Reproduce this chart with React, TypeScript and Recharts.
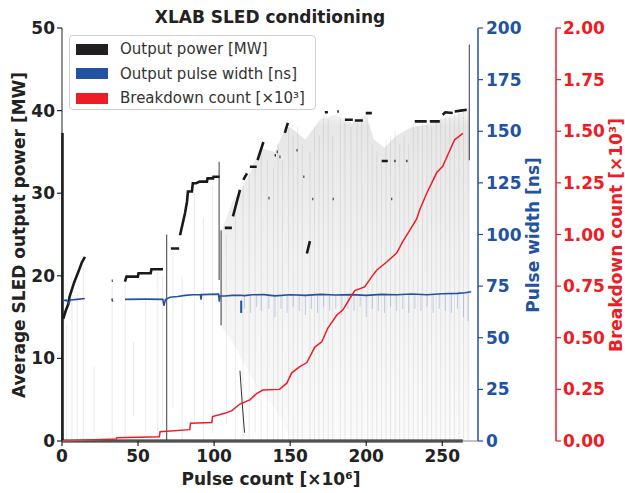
import React from 'react';
import { ComposedChart, Line, Area, XAxis, YAxis, Legend, Label } from 'recharts';

const FONT = '"DejaVu Sans", sans-serif';
const INK = '#222222';
const BLUE = '#2352a2';
const RED = '#ee1c25';

const xTicks = [0, 50, 100, 150, 200, 250];
const powerTicks = [0, 10, 20, 30, 40, 50];
const widthTicks = [0, 25, 50, 75, 100, 125, 150, 175, 200];
const breakdownTicks = [0, 0.25, 0.5, 0.75, 1, 1.25, 1.5, 1.75, 2];

// output power trace pieces: [pulse count x1e6, MW]
const powerTrace: [number, number][][] = [
  [[0.8, 14.8], [2.5, 15.8], [4, 16.5], [5, 17.5], [8, 19.2], [11, 20.6], [13, 21.6], [15.1, 22.3]],
  [[32.7, 19.4], [33.3, 19.4]],
  [[41.4, 19.3], [42.4, 19.9], [49.9, 19.9], [50.3, 20.3], [58.3, 20.3], [58.8, 20.8], [66.4, 20.8]],
  [[71.6, 23.3], [77, 23.3]],
  [[77.6, 24.9], [80.9, 27.6], [82.2, 29], [82.8, 30.2], [85.4, 30.2], [86, 31.2], [88.2, 31.2], [90.6, 31.4], [95.3, 31.4], [95.7, 31.8], [99.3, 31.8], [99.6, 32], [103.6, 32]],
  [[107, 25.8], [111.7, 25.8]],
  [[112.4, 27.2], [117, 30.4]],
  [[119.2, 31.6], [121.6, 32.4]],
  [[123.5, 33.2], [128, 33.2]],
  [[128.6, 34], [132.4, 36.2]],
  [[135.8, 29.4], [136.4, 29.4]],
  [[139.8, 34.6], [140.6, 34.6]],
  [[141.2, 35], [141.8, 35]],
  [[143, 34.4], [143.6, 34.4]],
  [[146.5, 37.3], [148.5, 38.5]],
  [[154.2, 35.2], [154.8, 35.2]],
  [[158.7, 32], [159.3, 32]],
  [[161, 22.7], [163, 24.2]],
  [[164.6, 29.3], [165.2, 29.3]],
  [[172.8, 39.8], [174.8, 39.8]],
  [[178, 29.3], [178.6, 29.3]],
  [[181, 39.9], [182, 39.9]],
  [[186, 38.9], [191.2, 38.9]],
  [[192.5, 38.8], [197.8, 38.8]],
  [[199.7, 39.7], [203.7, 39.7]],
  [[210.2, 33.9], [214.2, 33.9]],
  [[216.5, 29.3], [217.1, 29.3]],
  [[218.5, 33.9], [219.3, 33.9]],
  [[226.3, 33.9], [227.1, 33.9]],
  [[231.9, 38.7], [239.8, 38.7]],
  [[241.8, 38.7], [248.4, 38.7]],
  [[250.3, 39.5], [252, 39.8], [256.9, 39.7]],
  [[258.2, 39.9], [262, 40], [266.1, 40.1]],
];

const powerFloor: [number, number][] = [[0, 0], [263.5, 0]];
const powerStart: [number, number][] = [[0.3, 0], [0.3, 37.3]];

// dark vertical strokes [x, low MW, high MW]
const darkStreaks: [number, number, number][] = [
  [68.8, 0, 25], [103.3, 19.5, 33.8], [104.6, 14, 25.5], [267.8, 34, 48],
];
const slantStreak: [number, number][] = [[117, 8.5], [118.5, 4.5], [120, 1]];

// faint vertical noise [x, low MW, high MW]
const greyStreaks: [number, number, number][] = [
  [3, 0, 14], [6.5, 0, 20], [10, 0, 18], [14, 0, 21], [21, 1, 9], [33, 0, 19], [41.5, 0, 19.5],
  [47, 3, 12], [55, 1, 17], [63, 0, 20.5], [66, 2, 20], [73, 4, 23], [79, 0, 20], [87, 2, 30],
  [93, 0, 27], [99, 1, 31], [108, 2, 25], [114, 0, 29], [119, 0, 31], [123, 0, 33], [127, 1, 33],
  [131, 0, 35], [135, 0, 34], [139, 0, 33], [142, 0, 36], [145, 0, 34], [149, 0, 38], [152, 0, 37],
  [155, 0, 38], [158, 0, 36], [163, 0, 35], [166, 0, 38], [169, 0, 37], [172, 0, 39.5], [175, 0, 39],
  [178, 0, 37], [183, 0, 39], [186, 0, 38.5], [190, 0, 38], [194, 0, 38.5], [197, 0, 39], [201, 0, 40],
  [204, 0, 36], [207, 0, 35], [210, 0, 34], [213, 0, 36.5], [216, 0, 37], [219, 0, 37.5], [222, 0, 36],
  [225, 0, 37], [228, 0, 36], [231, 0, 38.5], [234, 0, 38], [237, 0, 38.5], [240, 0, 38.7], [243, 0, 38],
  [246, 0, 38.6], [249, 0, 39], [252, 0, 39.5], [255, 0, 39.8], [258, 0, 40], [261, 0, 39.8],
  [264, 0, 40.2], [267, 0, 40],
];

// grey haze band [x, low MW, high MW]
const powerHaze: [number, number, number][] = [
  [104, 14, 25], [112, 12, 29], [118, 10, 30.5], [124, 8, 32.5], [130, 6, 35.5], [140, 4, 35],
  [146, 2, 37.5], [150, 0, 38], [160, 0, 36.5], [170, 0, 39], [180, 0, 39.5], [190, 0, 38.5],
  [200, 0, 39.5], [205, 0, 36.5], [212, 0, 35.5], [220, 0, 37], [230, 0, 38], [240, 0, 38.3],
  [250, 0, 39], [260, 0, 39.5], [268, 0, 40.5],
];

// output pulse width [x, ns]
const widthTrace: [number, number][][] = [
  [[0, 68], [3, 68.2], [4.5, 66.5], [5.5, 68.3], [10, 68.6], [15, 69]],
  [[32.8, 69], [33.3, 67.5]],
  [[41.4, 68.6], [55, 68.7], [66.3, 68.6], [67, 65.5], [68, 68.5], [71, 69.6], [76, 70], [81, 70.5],
    [86, 70.8], [91, 70.9], [91.4, 68.5], [91.8, 70.9], [103, 71.1], [103.4, 67.5], [103.8, 70.3],
    [107, 70.2], [112, 70.5], [117, 70.6], [120, 70.4], [125, 70.8], [133, 70.9], [140, 70.3],
    [150, 70.8], [160, 70.5], [170, 71], [180, 70.7], [190, 70.9], [200, 70.5], [210, 71],
    [220, 70.8], [230, 71.2], [240, 70.8], [250, 71.3], [260, 71.5], [265, 71.8], [269, 72.3]],
];
const widthDip: [number, number, number][] = [[117.8, 62, 68]];
const widthFuzz: [number, number, number][] = [
  [120, 64, 70.5], [124, 62, 70.7], [128, 65, 70.8], [131, 63, 70.9], [136, 64, 70.5], [140, 60, 70.3],
  [144, 64, 70.6], [148, 62, 70.8], [152, 65, 70.8], [156, 63, 70.6], [160, 61, 70.5], [164, 64, 70.8],
  [168, 62, 71], [172, 65, 70.9], [176, 63, 70.7], [180, 64, 70.7], [184, 61, 70.8], [188, 64, 70.9],
  [192, 63, 70.9], [196, 65, 70.7], [200, 60, 70.5], [204, 64, 70.8], [208, 63, 71], [212, 62, 70.9],
  [216, 65, 70.8], [220, 63, 70.8], [224, 64, 71], [228, 62, 71.2], [232, 64, 71], [236, 63, 70.9],
  [240, 65, 70.8], [244, 62, 71], [248, 64, 71.3], [252, 63, 71.3], [256, 62, 71.4], [260, 64, 71.5],
  [264, 60, 71.8], [267, 58, 72],
];

// breakdown count [x, x1e3]
const breakdown: [number, number][] = [
  [0, 0], [35.5, 0.01], [36.1, 0.016], [64, 0.02], [64.5, 0.045], [84, 0.055], [84.5, 0.086],
  [98.5, 0.09], [99, 0.118], [107, 0.134], [111.7, 0.147], [117, 0.179], [123.5, 0.199],
  [128, 0.23], [132, 0.247], [143, 0.25], [147.8, 0.28], [151, 0.33], [156.4, 0.36], [161, 0.38],
  [166.2, 0.455], [170.8, 0.48], [174.8, 0.547], [180.7, 0.61], [184.6, 0.634], [189.2, 0.69],
  [192.5, 0.728], [199, 0.746], [203.7, 0.796], [207, 0.828], [213.5, 0.867], [220, 0.91],
  [224, 0.965], [228.6, 1.02], [233.2, 1.075], [235.2, 1.12], [239.8, 1.2], [243.1, 1.25],
  [246.4, 1.3], [250.3, 1.33], [253.6, 1.385], [258.2, 1.46], [260.2, 1.47], [263.5, 1.49],
];

const legendItems = [
  { name: 'Output power [MW]', color: '#231f20' },
  { name: 'Output pulse width [ns]', color: '#2352a2' },
  { name: 'Breakdown count [×10³]', color: '#ee1c25' },
];

type Row = { x: number; y: number | null };
const pieces = (segs: [number, number][][]): Row[] =>
  segs.flatMap((s) => [...s.map(([x, y]) => ({ x, y })), { x: s[s.length - 1][0], y: null }]);
const streaks = (list: [number, number, number][]): Row[] =>
  list.flatMap(([x, lo, hi]) => [{ x, y: lo }, { x, y: hi }, { x, y: null }]);

const hazeRows = powerHaze.map(([x, lo, hi]) => ({ x, range: [lo, hi] }));
const breakdownRows = breakdown.map(([x, y]) => ({ x, y }));

const tickFont = { fontSize: 17, fontWeight: 'bold', fontFamily: FONT };

const LegendBox = () => (
  <div style={{ width: 245, height: 73, border: '1px solid #d0d0d0', borderRadius: 4, background: 'rgba(255,255,255,0.85)', boxSizing: 'content-box', position: 'relative' }}>
    {legendItems.map((it, i) => (
      <div key={it.name} style={{ position: 'absolute', left: 6, top: 7 + i * 24.5, display: 'flex', alignItems: 'center', height: 12 }}>
        <div style={{ width: 32, height: 11, background: it.color }} />
        <span style={{ marginLeft: 12, fontFamily: FONT, fontSize: 15, color: '#333', whiteSpace: 'nowrap' }}>{it.name}</span>
      </div>
    ))}
  </div>
);

const rotLabel = (text: string, x: number, y: number, color: string) => () => (
  <text x={x} y={y} transform={`rotate(-90 ${x} ${y})`} textAnchor="middle" fill={color}
    style={{ fontFamily: FONT, fontSize: 17, fontWeight: 'bold' }}>{text}</text>
);

export default function App() {
  return (
    <div style={{ position: 'absolute', left: 0, top: 0, width: 625, height: 493, background: '#fff' }}>
      <svg width={625} height={30} style={{ position: 'absolute', left: 0, top: 0 }}>
        <text x={270} y={22.5} textAnchor="middle" fill={INK} style={{ fontFamily: FONT, fontSize: 17, fontWeight: 'bold' }}>
          XLAB SLED conditioning
        </text>
      </svg>
      <ComposedChart width={625} height={493} margin={{ top: 28, right: 0, bottom: 0, left: 0 }}>
        <defs>
          <linearGradient id="haze" x1="0" y1="0" x2="0" y2="1">
            <stop offset="0%" stopColor="#555" stopOpacity={0.06} />
            <stop offset="6%" stopColor="#555" stopOpacity={0.24} />
            <stop offset="45%" stopColor="#555" stopOpacity={0.13} />
            <stop offset="100%" stopColor="#555" stopOpacity={0.04} />
          </linearGradient>
        </defs>
        <XAxis xAxisId="top" orientation="top" dataKey="x" type="number" domain={[0, 273.5]} height={0}
          tick={false} tickLine={false} axisLine={{ stroke: '#888', strokeWidth: 1.5 }} />
        <XAxis dataKey="x" type="number" domain={[0, 273.5]} ticks={xTicks} height={52}
          tick={{ ...tickFont, fill: INK }} tickSize={5} tickMargin={4}
          axisLine={{ stroke: '#888', strokeWidth: 1 }} tickLine={{ stroke: INK, strokeWidth: 1.2 }}>
          <Label content={() => (
            <text x={271} y={485} textAnchor="middle" fill={INK} style={{ fontFamily: FONT, fontSize: 17, fontWeight: 'bold' }}>
              Pulse count [×10⁶]
            </text>
          )} />
        </XAxis>
        <YAxis yAxisId="p" domain={[0, 50]} ticks={powerTicks} width={62}
          tick={{ ...tickFont, fill: INK }} tickSize={5} tickMargin={2}
          axisLine={{ stroke: INK, strokeWidth: 1 }} tickLine={{ stroke: INK, strokeWidth: 1.2 }}>
          <Label content={rotLabel('Average SLED output power [MW]', 25, 235, INK)} />
        </YAxis>
        <YAxis yAxisId="a" orientation="right" domain={[0, 200]} ticks={widthTicks} width={78}
          tick={{ ...tickFont, fill: BLUE }} tickSize={5} tickMargin={3}
          axisLine={{ stroke: BLUE, strokeWidth: 1.5 }} tickLine={{ stroke: BLUE, strokeWidth: 1.2 }}>
          <Label content={rotLabel('Pulse width [ns]', 539, 235, BLUE)} />
        </YAxis>
        <YAxis yAxisId="z" orientation="right" domain={[0, 2]} ticks={breakdownTicks} width={69}
          tick={{ ...tickFont, fill: RED }} tickSize={5} tickMargin={2}
          tickFormatter={(v: number) => v.toFixed(2)}
          axisLine={{ stroke: RED, strokeWidth: 1.5 }} tickLine={{ stroke: RED, strokeWidth: 1.2 }}>
          <Label content={rotLabel('Breakdown count [×10³]', 622, 235, RED)} />
        </YAxis>

        <Area yAxisId="p" data={hazeRows} dataKey="range" type="linear" stroke="none" fill="url(#haze)"
          isAnimationActive={false} />
        <Line yAxisId="p" data={streaks(greyStreaks)} dataKey="y" stroke="#666" strokeWidth={0.6} strokeOpacity={0.22}
          dot={false} connectNulls={false} isAnimationActive={false} />
        <Line yAxisId="p" data={streaks(darkStreaks)} dataKey="y" stroke="#1a1a1a" strokeWidth={1.2} strokeOpacity={0.7}
          dot={false} connectNulls={false} isAnimationActive={false} />
        <Line yAxisId="p" data={pieces([slantStreak])} dataKey="y" stroke="#333" strokeWidth={1}
          dot={false} connectNulls={false} isAnimationActive={false} />
        <Line yAxisId="p" data={pieces([powerStart])} dataKey="y" stroke="#1a1a1a" strokeWidth={2.6}
          dot={false} isAnimationActive={false} />
        <Line yAxisId="p" data={pieces(powerTrace)} dataKey="y" stroke="#1a1a1a" strokeWidth={2.6}
          dot={false} connectNulls={false} isAnimationActive={false} />
        <Line yAxisId="p" data={pieces([powerFloor])} dataKey="y" stroke="#1a1a1a" strokeWidth={3}
          dot={false} isAnimationActive={false} />

        <Line yAxisId="a" data={streaks(widthFuzz)} dataKey="y" stroke="#4a78c4" strokeWidth={0.8} strokeOpacity={0.4}
          dot={false} connectNulls={false} isAnimationActive={false} />
        <Line yAxisId="a" data={streaks(widthDip)} dataKey="y" stroke={BLUE} strokeWidth={2}
          dot={false} connectNulls={false} isAnimationActive={false} />
        <Line yAxisId="a" data={pieces(widthTrace)} dataKey="y" stroke={BLUE} strokeWidth={1.6}
          dot={false} connectNulls={false} isAnimationActive={false} />

        <Line yAxisId="z" data={breakdownRows} dataKey="y" type="linear" stroke={RED} strokeWidth={1.5}
          dot={false} isAnimationActive={false} />

        <Legend layout="vertical" align="center" verticalAlign="middle"
          wrapperStyle={{ left: 69, top: 35, width: 247, height: 75 }} content={() => <LegendBox />} />
      </ComposedChart>
    </div>
  );
}
